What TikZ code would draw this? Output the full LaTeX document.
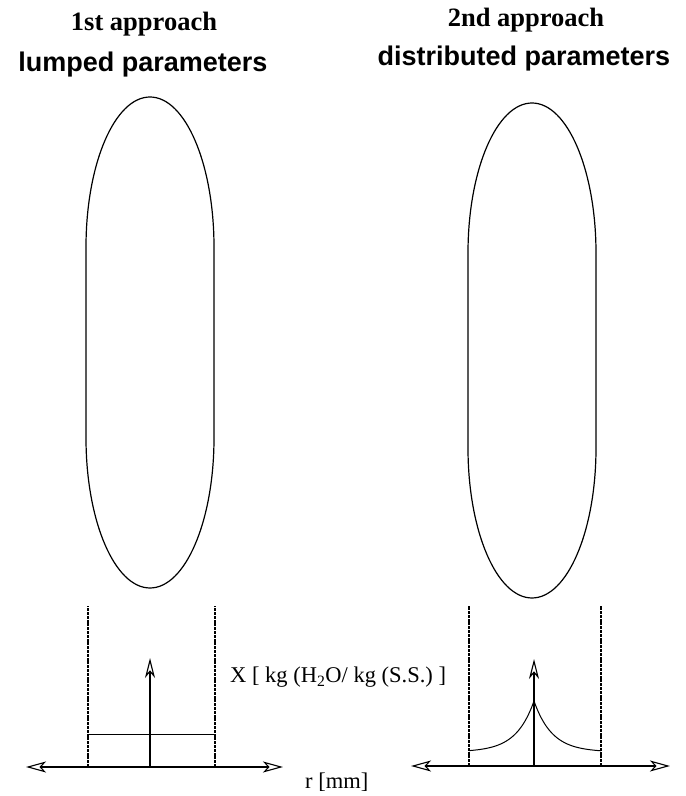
\documentclass[tikz,border=0pt]{standalone}
\usepackage{fontspec}
\setmainfont{Liberation Serif}
\newfontfamily\headsans{Liberation Sans}
\usetikzlibrary{arrows.meta}
\begin{document}
\begin{tikzpicture}[x=1pt,y=1pt,
  capsule/.style={line width=1.2pt},
  axis/.style={line width=2.6pt,
    {Stealth[open,length=20pt,width=11pt,inset=5pt,line width=1.1pt]}-{Stealth[open,length=20pt,width=11pt,inset=5pt,line width=1.1pt]}},
  yaxis/.style={line width=1.4pt,
    -{Stealth[open,length=20pt,width=10pt,inset=6pt,line width=1.1pt]}},
  wall/.style={line width=2pt,dash pattern=on 3pt off 0.8pt},
  profile/.style={line width=1pt},
  serifhead/.style={font=\fontsize{26.5}{30}\selectfont\bfseries,anchor=base,inner sep=0pt},
  sanshead/.style={font=\headsans\fontsize{27}{31}\selectfont\bfseries,anchor=base,inner sep=0pt},
  axlabel/.style={font=\fontsize{22.5}{26}\selectfont,anchor=base west,inner sep=0pt}]
\useasboundingbox (0,0) rectangle (686,796);

% headings
\node[serifhead] (h1) at (144,765) {1st approach};
\node[sanshead]  (s1) at (143,724) {lumped parameters};
\node[serifhead] (h2) at (526,769) {2nd approach};
\node[sanshead]  (s2) at (524,730) {distributed parameters};

% grains
\draw[capsule] (86,549) arc[start angle=180,end angle=0,x radius=64,y radius=150]
  -- (214,358) arc[start angle=0,end angle=-180,x radius=64,y radius=150] -- cycle;
\draw[capsule] (468,543) arc[start angle=180,end angle=0,x radius=64,y radius=150]
  -- (596,348) arc[start angle=0,end angle=-180,x radius=64,y radius=150] -- cycle;

% lumped: axes, walls, uniform profile
\coordinate (la) at (26,29);
\coordinate (lb) at (283,29);
\coordinate (lo) at (150,29);
\coordinate (ly) at (150,138);
\coordinate (lw1b) at (88,29);  \coordinate (lw1t) at (88,190);
\coordinate (lw2b) at (215,29); \coordinate (lw2t) at (215,190);
\coordinate (lp1) at (88,61);   \coordinate (lp2) at (215,61);
\draw[wall] (lw1b) -- (lw1t);
\draw[wall] (lw2b) -- (lw2t);
\draw[profile] (lp1) -- (lp2);
\draw[yaxis] (lo) -- (ly);
\draw[axis] (la) -- (lb);

% distributed: axes, walls, peaked profile
\coordinate (ra) at (411,30);
\coordinate (rb) at (670,30);
\coordinate (ro) at (534,30);
\coordinate (ry) at (534,137);
\coordinate (rw1b) at (469,30); \coordinate (rw1t) at (469,190);
\coordinate (rw2b) at (601,30); \coordinate (rw2t) at (601,190);
\draw[wall] (rw1b) -- (rw1t);
\draw[wall] (rw2b) -- (rw2t);
\draw[profile] plot[domain=469:534,samples=60,smooth] (\x,{44+51*exp(-(534-\x)/18)})
  -- plot[domain=534:601,samples=60,smooth] (\x,{44+51*exp(-(\x-534)/18)});
\draw[yaxis] (ro) -- (ry);
\draw[axis] (ra) -- (rb);

% axis labels
\node[axlabel] (xl) at (230,113) {X [ kg (H\textsubscript{2}O/ kg (S.S.) ]};
\node[axlabel] (rl) at (305,8) {r [mm]};
\end{tikzpicture}
\end{document}
